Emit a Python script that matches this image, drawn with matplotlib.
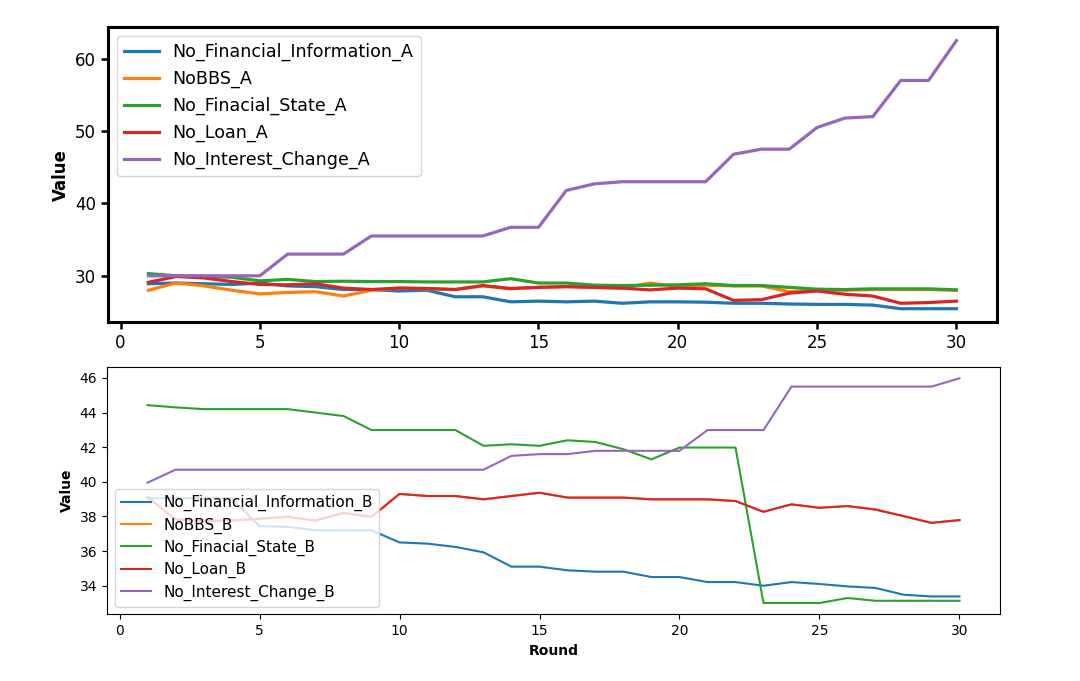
import matplotlib
matplotlib.use("Agg")
import matplotlib.pyplot as plt

rounds = list(range(1, 31))

# Group A
fin_info_A = [28.9, 29.0, 28.9, 28.8, 29.0, 28.6, 28.5, 28.1, 28.1, 27.9,
              28.0, 27.1, 27.1, 26.4, 26.5, 26.4, 26.5, 26.2, 26.4, 26.4,
              26.35, 26.2, 26.2, 26.1, 26.05, 26.05, 25.95, 25.45, 25.45, 25.45]
nobbs_A = [28.0, 29.0, 28.6, 28.0, 27.5, 27.7, 27.8, 27.2, 28.0, 28.3,
           28.2, 28.1, 28.6, 28.2, 28.4, 28.5, 28.4, 28.3, 29.0, 28.5,
           28.7, 28.6, 28.6, 27.8, 28.0, 28.0, 28.1, 28.1, 28.1, 28.0]
fin_state_A = [30.3, 30.0, 29.9, 29.8, 29.3, 29.5, 29.2, 29.25, 29.2, 29.2,
               29.15, 29.15, 29.15, 29.6, 29.0, 29.0, 28.7, 28.65, 28.7, 28.75,
               28.9, 28.65, 28.65, 28.4, 28.15, 28.1, 28.2, 28.2, 28.2, 28.05]
loan_A = [29.1, 29.9, 29.7, 29.2, 28.8, 28.75, 28.9, 28.3, 28.1, 28.3,
          28.25, 28.1, 28.65, 28.25, 28.4, 28.5, 28.4, 28.3, 28.05, 28.3,
          28.2, 26.6, 26.7, 27.6, 27.9, 27.45, 27.2, 26.2, 26.3, 26.5]
interest_A = [30.0, 30.0, 30.0, 30.0, 30.0, 33.0, 33.0, 33.0, 35.5, 35.5,
              35.5, 35.5, 35.5, 36.7, 36.7, 41.8, 42.7, 43.0, 43.0, 43.0,
              43.0, 46.8, 47.5, 47.5, 50.5, 51.8, 52.0, 57.0, 57.0, 62.5]

# Group B
fin_info_B = [39.05, 39.05, 39.05, 39.05, 37.44, 37.4, 37.2, 37.2, 37.2, 36.5,
              36.43, 36.24, 35.93, 35.1, 35.1, 34.89, 34.81, 34.81, 34.5, 34.5,
              34.21, 34.21, 34.0, 34.21, 34.1, 33.96, 33.87, 33.48, 33.38, 33.38]
loan_B = [39.12, 37.83, 37.73, 37.77, 37.87, 37.98, 37.77, 38.2, 37.98, 39.3,
          39.18, 39.18, 38.99, 39.18, 39.37, 39.09, 39.09, 39.09, 38.99, 38.99,
          38.99, 38.89, 38.27, 38.7, 38.5, 38.6, 38.4, 38.02, 37.63, 37.79]
nobbs_B = list(loan_B)
fin_state_B = [44.43, 44.3, 44.2, 44.2, 44.2, 44.2, 44.0, 43.8, 42.99, 42.99,
               42.99, 42.99, 42.08, 42.17, 42.08, 42.4, 42.3, 41.88, 41.3, 41.98,
               41.98, 41.98, 33.0, 33.0, 33.0, 33.29, 33.13, 33.13, 33.13, 33.13]
interest_B = [39.95, 40.7, 40.7, 40.7, 40.7, 40.7, 40.7, 40.7, 40.7, 40.7,
              40.7, 40.7, 40.7, 41.5, 41.6, 41.6, 41.79, 41.79, 41.79, 41.79,
              42.99, 42.99, 42.99, 45.5, 45.5, 45.5, 45.5, 45.5, 45.5, 45.98]

labels_A = ["No_Financial_Information_A", "NoBBS_A", "No_Finacial_State_A",
            "No_Loan_A", "No_Interest_Change_A"]
labels_B = ["No_Financial_Information_B", "NoBBS_B", "No_Finacial_State_B",
            "No_Loan_B", "No_Interest_Change_B"]
colors = ["#1f77b4", "#ff7f0e", "#2ca02c", "#d62728", "#9467bd"]

fig = plt.figure(figsize=(10.8, 6.81), dpi=100)

ax1 = fig.add_axes([0.100, 0.527, 0.823, 0.433])
for ys, lab, c in zip([fin_info_A, nobbs_A, fin_state_A, loan_A, interest_A], labels_A, colors):
    ax1.plot(rounds, ys, color=c, linewidth=2.3, label=lab)
for s in ax1.spines.values():
    s.set_linewidth(2.2)
ax1.tick_params(axis="both", labelsize=12, width=1.8, length=5)
ax1.set_yticks([30, 40, 50, 60])
ax1.set_xticks([0, 5, 10, 15, 20, 25, 30])
ax1.set_ylabel("Value", fontsize=12, fontweight="bold")
ax1.legend(loc="upper left", fontsize=12.6)

ax2 = fig.add_axes([0.099, 0.098, 0.827, 0.363])
for ys, lab, c in zip([fin_info_B, nobbs_B, fin_state_B, loan_B, interest_B], labels_B, colors):
    ax2.plot(rounds, ys, color=c, linewidth=1.5, label=lab)
ax2.tick_params(axis="both", labelsize=10)
ax2.set_yticks([34, 36, 38, 40, 42, 44, 46])
ax2.set_xticks([0, 5, 10, 15, 20, 25, 30])
ax2.set_ylabel("Value", fontsize=10, fontweight="bold")
ax2.set_xlabel("Round", fontsize=10, fontweight="bold")
ax2.legend(loc="lower left", fontsize=11, labelspacing=0.4)

fig.savefig("out.png", dpi=100)
